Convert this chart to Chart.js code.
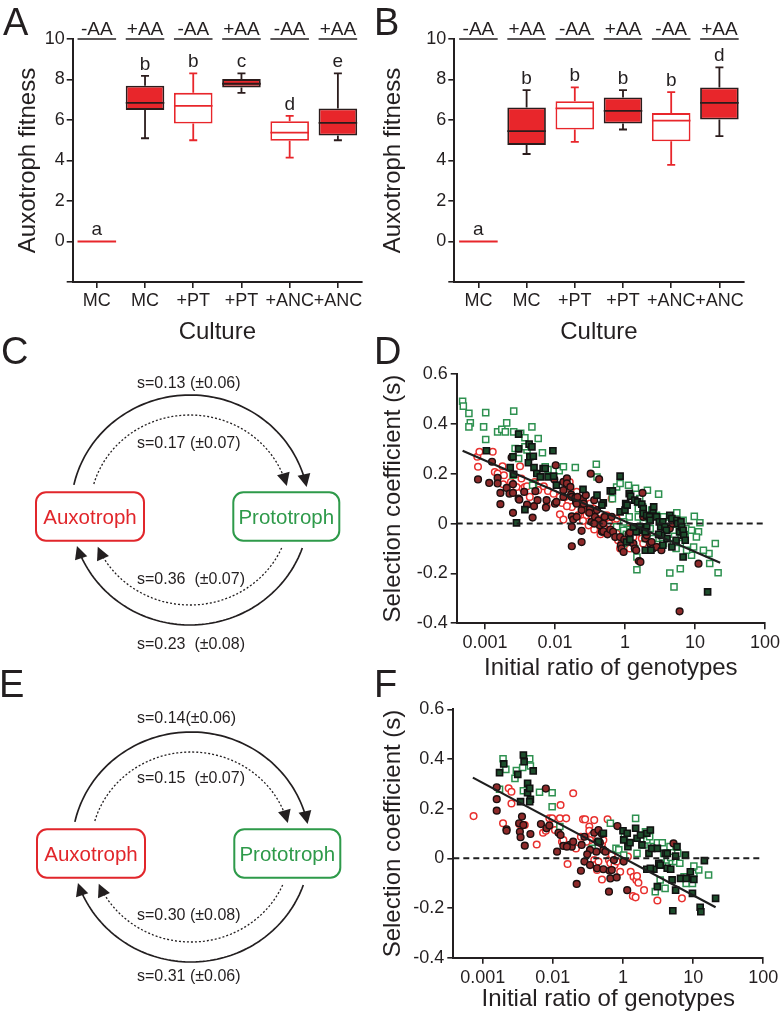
<!DOCTYPE html>
<html>
<head>
<meta charset="utf-8">
<script src="https://cdn.jsdelivr.net/npm/chart.js@4.4.1/dist/chart.umd.min.js"></script>
<style>
  body { margin: 0; background: #fff; width: 782px; height: 1016px; position: relative; overflow: hidden;
         font-family: 'Liberation Sans', Arial, sans-serif; color: #231f20; }
  canvas, svg, .lbl { position: absolute; }
  .lbl { font-size: 38px; line-height: 38px; }
</style>
</head>
<body>
<canvas id="chartA" width="380" height="347" style="left:0;top:0"></canvas>
<canvas id="chartB" width="420" height="347" style="left:378px;top:0"></canvas>
<canvas id="chartD" width="420" height="343" style="left:378px;top:340px"></canvas>
<canvas id="chartF" width="420" height="334" style="left:378px;top:680px"></canvas>
<svg id="diagrams" width="380" height="1016" style="left:0;top:0"></svg>
<div class="lbl" style="left:3px;top:3px">A</div>
<div class="lbl" style="left:374px;top:3px">B</div>
<div class="lbl" style="left:1px;top:332px">C</div>
<div class="lbl" style="left:374px;top:332px">D</div>
<div class="lbl" style="left:-1px;top:665px">E</div>
<div class="lbl" style="left:374px;top:665px">F</div>
<script>
// ---- box plots (A, B) ----
const boxCategories = ['MC', 'MC', '+PT', '+PT', '+ANC', '+ANC'];
const aaLabels = ['-AA', '+AA', '-AA', '+AA', '-AA', '+AA'];
const boxFilled = [false, true, false, true, false, true];

const aLow    = [0, 5.10, 5.00, 7.34, 4.14, 5.00];
const aQ1     = [0, 6.50, 5.83, 7.61, 4.97, 5.23];
const aMedian = [0, 6.85, 6.70, 7.79, 5.38, 5.86];
const aQ3     = [0, 7.69, 7.34, 8.02, 5.94, 6.57];
const aHigh   = [0, 8.18, 8.30, 8.30, 6.20, 8.30];
const aLetters = ['a', 'b', 'b', 'c', 'd', 'e'];

const bLow    = [0, 4.32, 4.92, 5.53, 3.78, 5.20];
const bQ1     = [0, 4.77, 5.53, 5.83, 4.95, 6.02];
const bMedian = [0, 5.45, 6.57, 6.45, 5.97, 6.85];
const bQ3     = [0, 6.62, 6.93, 7.11, 6.34, 7.61];
const bHigh   = [0, 7.48, 7.61, 7.48, 7.38, 8.60];
const bLetters = ['a', 'b', 'b', 'b', 'b', 'd'];

// ---- scatter plots (D, F): [log10 of ratio, selection coefficient] ----
const ratioTicks = [0.001, 0.01, 0.1, 1, 10];
const ratioTickLabels = ['0.001', '0.01', '1', '10', '100'];

const dRedOpen = [[-3.11,0.268],[-3.08,0.288],[-3.10,0.228],[-2.89,0.288],[-2.86,0.207],[-2.82,0.201],[-2.75,0.230],[-2.73,0.194],[-2.74,0.158],[-2.63,0.167],[-2.55,0.147],[-2.50,0.230],[-2.48,0.181],[-2.46,0.141],[-2.43,0.147],[-2.40,0.150],[-2.36,0.107],[-2.29,0.167],[-2.24,0.134],[-2.12,0.071],[-2.16,0.150],[-2.10,0.131],[-2.02,0.120],[-1.93,0.037],[-1.90,0.083],[-1.88,0.016],[-1.86,0.107],[-1.84,0.118],[-1.79,0.167],[-1.76,0.110],[-1.71,0.107],[-1.69,0.127],[-1.67,0.083],[-1.64,0.080],[-1.62,0.094],[-1.60,0.074],[-1.57,0.047],[-1.55,0.033],[-1.52,-0.007],[-1.50,0.080],[-1.48,0.033],[-1.45,0.060],[-1.43,0.013],[-1.41,-0.013],[-1.40,0.020],[-1.37,0.003],[-1.35,-0.043],[-1.31,0.007],[-1.30,0.027],[-1.26,0.033],[-1.22,0.0],[-1.21,-0.033],[-1.19,0.100],[-1.16,-0.011],[-1.12,-0.040],[-1.10,-0.067],[-1.07,-0.100],[-1.05,-0.080],[-1.02,-0.040],[-1.00,-0.067],[-0.97,-0.024],[-0.93,-0.100],[-0.88,-0.054],[-0.83,-0.027],[-0.81,-0.147],[-0.76,-0.060],[-0.74,-0.080],[-0.69,-0.040],[-0.55,-0.094],[-0.93,-0.020],[-1.12,0.020],[-1.31,-0.013],[-1.44,-0.024],[-1.52,0.047],[-1.60,0.011],[-1.67,0.033],[-1.76,0.067],[-1.83,0.070],[-1.93,0.107]];
const dRedFilled = [[-3.10,0.177],[-2.94,0.163],[-2.90,0.248],[-2.82,0.183],[-2.82,0.161],[-2.78,0.123],[-2.78,0.078],[-2.69,0.143],[-2.65,0.120],[-2.62,0.265],[-2.60,0.158],[-2.60,0.123],[-2.60,0.043],[-2.52,0.100],[-2.51,0.096],[-2.44,0.127],[-2.40,0.076],[-2.32,0.024],[-2.30,0.070],[-2.28,0.130],[-2.25,0.094],[-2.12,0.094],[-2.13,0.064],[-1.99,0.234],[-2.01,0.177],[-1.88,0.167],[-1.88,0.134],[-1.83,0.181],[-1.83,0.161],[-1.77,0.116],[-1.76,0.107],[-1.76,0.029],[-1.74,0.016],[-1.70,0.087],[-1.69,0.080],[-1.62,0.054],[-1.60,0.100],[-1.59,0.080],[-1.56,0.114],[-1.50,0.060],[-1.48,0.007],[-1.44,0.094],[-1.43,0.027],[-1.40,0.054],[-1.38,0.013],[-1.36,-0.007],[-1.33,-0.033],[-1.31,-0.031],[-1.31,0.0],[-1.29,0.027],[-1.25,-0.043],[-1.21,-0.024],[-1.19,0.027],[-1.17,-0.033],[-1.14,-0.054],[-1.07,-0.054],[-1.06,-0.087],[-1.05,-0.100],[-1.02,-0.114],[-1.01,-0.064],[-0.95,-0.043],[-0.93,-0.037],[-0.88,-0.080],[-0.86,-0.100],[-0.84,-0.107],[-0.80,-0.150],[-0.78,-0.154],[-0.75,0.123],[-0.74,0.027],[-0.71,-0.060],[-0.69,-0.047],[-0.64,-0.080],[-0.62,-0.074],[-0.60,-0.100],[-0.55,-0.094],[-0.48,-0.107],[-0.36,-0.020],[-0.32,0.0],[-0.22,-0.352],[0.05,-0.161],[-1.62,-0.074],[-1.69,0.027],[-1.51,0.043],[-1.44,0.0],[-1.62,-0.029],[-1.76,-0.013],[-2.00,0.080],[-1.98,0.087],[-1.88,0.107],[-1.78,0.147],[-1.71,0.103],[-1.68,0.107],[-1.49,0.200],[-1.37,0.178],[-1.76,-0.091]];
const dGreenOpen = [[-3.32,0.491],[-3.31,0.471],[-3.23,0.442],[-3.21,0.404],[-3.23,0.388],[-3.02,0.388],[-2.99,0.445],[-2.99,0.337],[-2.82,0.368],[-2.76,0.378],[-2.71,0.368],[-2.69,0.404],[-2.59,0.451],[-2.59,0.368],[-2.57,0.301],[-2.49,0.362],[-2.43,0.344],[-2.40,0.295],[-2.33,0.388],[-2.24,0.341],[-2.18,0.284],[-2.14,0.228],[-2.43,0.308],[-2.52,0.261],[-2.60,0.194],[-2.10,0.217],[-1.94,0.212],[-1.88,0.228],[-1.71,0.225],[-1.41,0.238],[-2.31,0.161],[-2.32,0.154],[-1.40,0.187],[-1.18,0.100],[-1.12,0.147],[-1.07,0.161],[-0.95,0.154],[-0.85,0.142],[-0.75,0.067],[-0.68,0.134],[-0.52,0.118],[-0.94,0.027],[-0.97,-0.024],[-0.93,-0.033],[-0.81,0.060],[-0.62,0.054],[-0.55,0.033],[-0.45,0.027],[-0.36,0.027],[-0.26,0.043],[-0.17,0.013],[-0.01,0.029],[-0.13,-0.020],[-0.20,-0.060],[-0.31,-0.080],[-0.05,-0.127],[0.05,-0.033],[0.07,0.003],[0.20,-0.12],[0.21,-0.16],[0.33,-0.197],[-0.36,-0.198],[-0.21,-0.181],[-0.30,-0.254],[-0.83,-0.185],[-0.83,-0.134],[-0.86,-0.100],[-0.64,-0.020],[-0.40,-0.024],[-0.21,-0.027],[-0.55,-0.060],[-0.45,-0.080],[-1.02,-0.027],[-0.98,-0.043],[-0.81,0.027],[-0.48,0.0],[-0.30,-0.020],[-0.21,-0.080],[-0.12,-0.107],[-0.02,-0.094],[-0.27,-0.100],[-0.14,-0.054],[-0.05,-0.027],[0.02,-0.054],[0.12,-0.107],[0.29,-0.080],[-0.79,0.100],[-0.74,0.054],[-0.74,0.0],[-0.71,-0.060],[-1.02,0.007],[-1.12,-0.013],[-1.02,-0.080],[-0.69,0.027],[-0.60,-0.060],[-0.38,-0.043],[-0.31,-0.027]];
const dGreenFilled = [[-2.98,0.292],[-2.52,0.359],[-2.52,0.300],[-2.64,0.225],[-2.60,0.268],[-2.59,0.198],[-2.43,0.056],[-2.55,0.003],[-2.37,0.319],[-2.36,0.268],[-2.38,0.244],[-2.33,0.308],[-2.31,0.270],[-2.30,0.225],[-2.26,0.201],[-2.21,0.187],[-2.17,0.221],[-2.14,0.221],[-2.10,0.187],[-2.03,0.292],[-2.02,0.190],[-1.98,0.154],[-1.60,0.137],[-1.40,0.114],[-1.31,0.083],[-1.21,0.131],[-1.18,0.131],[-1.07,0.190],[-1.07,0.047],[-1.00,0.054],[-0.99,0.080],[-0.97,0.074],[-0.94,0.120],[-0.92,0.110],[-0.86,0.094],[-0.82,0.087],[-0.76,0.078],[-0.74,0.060],[-0.74,0.040],[-0.69,0.033],[-0.65,0.027],[-0.64,0.013],[-0.60,0.054],[-0.59,0.067],[-0.55,0.027],[-0.51,0.007],[-0.49,-0.013],[-0.46,0.007],[-0.43,-0.013],[-0.41,-0.027],[-0.36,0.033],[-0.33,0.020],[-0.26,0.013],[-0.25,0.0],[-0.22,-0.033],[-0.20,0.007],[-0.19,-0.013],[-0.17,-0.027],[-0.16,-0.047],[-0.14,-0.067],[-0.27,-0.067],[-0.40,-0.060],[-0.48,-0.047],[-0.52,-0.043],[-0.69,-0.013],[-0.71,-0.033],[-0.79,-0.013],[-0.81,-0.027],[-0.84,-0.033],[-0.88,-0.013],[-0.98,-0.074],[-0.93,-0.064],[-0.71,-0.107],[-0.63,-0.107],[-0.33,-0.094],[-0.17,-0.134],[-0.46,-0.087],[0.18,-0.274],[-1.33,0.074]];
const dFit = [[-3.32, 0.292], [0.36, -0.157]];
const dRatioMin = 0.000394, dRatioMax = 10;

const fRedOpen = [[-3.13,0.170],[-2.71,0.141],[-2.63,0.282],[-2.59,0.268],[-2.59,0.221],[-2.48,0.138],[-2.44,0.132],[-2.40,0.134],[-2.23,0.056],[-2.14,0.103],[-2.10,0.111],[-2.05,0.161],[-2.01,0.161],[-1.97,0.114],[-1.90,0.161],[-1.89,0.215],[-1.87,0.067],[-1.85,0.074],[-1.81,0.161],[-1.79,-0.023],[-1.71,0.262],[-1.60,0.087],[-1.57,0.157],[-1.54,0.157],[-1.48,0.128],[-1.48,0.111],[-1.44,0.094],[-1.41,0.154],[-1.41,-0.007],[-1.40,-0.027],[-1.37,-0.047],[-1.35,-0.013],[-1.30,0.058],[-1.22,0.157],[-1.20,-0.007],[-1.18,-0.020],[-1.16,0.013],[-1.12,-0.027],[-1.09,-0.013],[-1.04,-0.054],[-0.99,0.0],[-0.89,-0.054],[-0.85,-0.074],[-0.81,-0.087],[-0.78,-0.098],[-0.86,-0.152],[-0.82,-0.157],[-0.70,-0.128],[-0.51,-0.170],[-0.16,-0.161],[-0.80,-0.071],[-0.93,0.007],[-1.47,0.074],[-1.52,0.067],[-1.28,0.074],[-1.67,0.040],[-1.30,-0.085]];
const fRedFilled = [[-2.80,0.286],[-2.80,0.238],[-2.80,0.192],[-2.66,0.117],[-2.66,0.111],[-2.48,0.141],[-2.47,0.107],[-2.46,0.085],[-2.44,0.168],[-2.42,0.134],[-2.40,0.051],[-2.32,0.098],[-2.10,0.281],[-2.17,0.138],[-2.09,0.121],[-2.05,0.132],[-1.94,0.027],[-1.92,0.103],[-1.89,0.094],[-1.85,0.050],[-1.76,0.054],[-1.73,0.047],[-1.71,0.067],[-1.66,-0.103],[-1.60,-0.050],[-1.55,0.087],[-1.55,-0.013],[-1.47,-0.027],[-1.41,0.103],[-1.38,0.027],[-1.37,-0.040],[-1.36,0.067],[-1.35,0.114],[-1.33,0.063],[-1.30,0.098],[-1.28,0.034],[-1.28,-0.044],[-1.25,0.027],[-1.20,-0.134],[-1.19,-0.050],[-1.18,-0.081],[-1.16,-0.047],[-1.13,-0.007],[-1.09,-0.077],[-1.08,0.130],[-0.99,-0.013],[-0.94,-0.128],[-0.28,0.060],[-1.59,0.054],[-1.80,0.047],[-1.47,0.034],[-1.51,0.016]];
const fGreenOpen = [[-2.71,0.401],[-2.67,0.358],[-2.52,0.353],[-2.54,0.322],[-2.43,0.366],[-2.33,0.401],[-2.32,0.372],[-2.42,0.272],[-2.19,0.266],[-2.01,0.264],[-2.01,0.208],[-2.76,0.278],[-1.90,0.128],[-1.44,0.040],[-1.18,0.141],[-1.10,0.040],[-1.06,0.034],[-0.82,0.161],[-0.98,0.087],[-0.99,0.013],[-0.80,0.020],[-0.70,0.054],[-0.68,0.107],[-0.66,0.074],[-0.62,0.087],[-0.56,0.047],[-0.51,0.063],[-0.44,0.063],[-0.44,-0.020],[-0.37,-0.007],[-0.33,0.047],[-0.30,-0.013],[-0.25,-0.013],[-0.22,0.020],[-0.19,-0.020],[-0.13,-0.074],[-0.10,-0.101],[-0.01,-0.101],[0.01,-0.060],[0.08,-0.047],[0.22,-0.067],[-0.54,-0.134],[-0.47,-0.087],[-0.40,-0.121],[-0.32,0.004],[0.01,-0.031],[-0.42,0.020]];
const fGreenFilled = [[-2.76,0.345],[-2.70,0.380],[-2.50,0.338],[-2.42,0.416],[-2.41,0.389],[-2.36,0.264],[-2.36,0.302],[-2.33,0.282],[-2.32,0.238],[-2.28,0.352],[-2.46,0.228],[-2.33,0.228],[-1.28,0.101],[-1.00,0.111],[-0.99,0.074],[-0.94,0.101],[-0.93,0.047],[-0.90,0.063],[-0.82,0.121],[-0.80,0.081],[-0.75,0.094],[-0.73,0.054],[-0.66,0.101],[-0.63,0.020],[-0.61,0.114],[-0.59,0.040],[-0.66,-0.044],[-0.56,-0.044],[-0.51,0.040],[-0.49,-0.020],[-0.47,-0.027],[-0.40,0.020],[-0.37,-0.040],[-0.37,0.020],[-0.32,-0.044],[-0.30,-0.087],[-0.29,-0.211],[-0.25,0.009],[-0.25,-0.128],[-0.23,0.047],[-0.18,-0.081],[-0.11,0.013],[-0.10,-0.081],[-0.01,-0.141],[0.01,-0.085],[-0.04,-0.054],[0.10,-0.197],[0.11,-0.215],[0.16,-0.009],[0.32,-0.161],[-0.51,-0.114],[-1.35,0.067],[-0.61,-0.040]];
const fFit = [[-3.14, 0.325], [0.32, -0.197]];
const fRatioMin = 0.000381, fRatioMax = 10;

// ---- diagrams (C, E) ----
const cRates = ['s=0.13 (\u00b10.06)', 's=0.17 (\u00b10.07)', 's=0.36  (\u00b10.07)', 's=0.23  (\u00b10.08)'];
const eRates = ['s=0.14(\u00b10.06)', 's=0.15  (\u00b10.07)', 's=0.30 (\u00b10.08)', 's=0.31 (\u00b10.06)'];

const INK = '#231f20';
const RED = '#e8262b';
const DARK = '#2b1c1c';
Chart.defaults.font.family = "'Liberation Sans', Arial, sans-serif";
Chart.defaults.color = INK;

// whiskers, medians, letters and the -AA/+AA headers
function boxExtras(st) {
  return {
    id: 'boxExtras',
    afterDatasetsDraw(chart) {
      const {ctx, chartArea} = chart;
      const xs = chart.scales.x, ys = chart.scales.y;
      const half = xs.width / boxCategories.length * 0.4;
      ctx.save();
      for (let i = 0; i < st.median.length; i++) {
        const cx = xs.getPixelForValue(i);
        const yLow = ys.getPixelForValue(st.low[i]);
        const yQ1 = ys.getPixelForValue(st.q1[i]);
        const yMed = ys.getPixelForValue(st.median[i]);
        const yQ3 = ys.getPixelForValue(st.q3[i]);
        const yHigh = ys.getPixelForValue(st.high[i]);
        ctx.strokeStyle = boxFilled[i] ? DARK : RED;
        ctx.lineWidth = 1.8;
        if (st.q3[i] > st.q1[i]) {
          ctx.beginPath();
          ctx.moveTo(cx, yQ3); ctx.lineTo(cx, yHigh);
          ctx.moveTo(cx, yQ1); ctx.lineTo(cx, yLow);
          ctx.moveTo(cx - 4, yHigh); ctx.lineTo(cx + 4, yHigh);
          ctx.moveTo(cx - 4, yLow); ctx.lineTo(cx + 4, yLow);
          ctx.stroke();
        }
        ctx.beginPath();
        ctx.moveTo(cx - half, yMed); ctx.lineTo(cx + half, yMed);
        ctx.stroke();

        ctx.fillStyle = INK;
        ctx.font = "19px 'Liberation Sans', Arial, sans-serif";
        ctx.textAlign = 'center';
        ctx.textBaseline = 'middle';
        ctx.fillText(st.letters[i], cx, yHigh - 11.5);
        ctx.fillText(aaLabels[i], cx, chartArea.top - 9);
        ctx.strokeStyle = INK;
        ctx.lineWidth = 1.3;
        ctx.beginPath();
        ctx.moveTo(cx - half, chartArea.top); ctx.lineTo(cx + half, chartArea.top);
        ctx.stroke();
      }
      ctx.restore();
    }
  };
}

function axisStyle() {
  return {
    grid: {drawOnChartArea: false, drawTicks: true, tickLength: 6, color: INK, lineWidth: 1.6, offset: false},
    border: {display: true, color: INK, width: 2}
  };
}

function boxChart(id, st, geo) {
  return new Chart(document.getElementById(id), {
    type: 'bar',
    data: {
      labels: boxCategories,
      datasets: [{
        data: st.q1.map((v, i) => st.q3[i] > v ? [v, st.q3[i]] : null),
        backgroundColor: boxFilled.map(f => f ? RED : '#ffffff'),
        borderColor: boxFilled.map(f => f ? DARK : RED),
        borderWidth: 1.8,
        borderSkipped: false,
        barPercentage: 0.8,
        categoryPercentage: 1
      }]
    },
    options: {
      responsive: false,
      animation: false,
      layout: {padding: {left: 0, top: 39, right: geo.padRight, bottom: 0}},
      plugins: {legend: {display: false}, tooltip: {enabled: false}},
      scales: {
        x: {
          ...axisStyle(),
          afterFit: s => { s.height = 65; },
          ticks: {font: {size: 18}, color: INK, padding: 2, maxRotation: 0, autoSkip: false},
          title: {display: true, text: 'Culture', font: {size: 24}, color: INK, padding: 0}
        },
        y: {
          ...axisStyle(),
          min: -2, max: 10,
          afterFit: s => { s.width = geo.yWidth; },
          ticks: {stepSize: 2, font: {size: 18}, color: INK, padding: 2, callback: v => v < 0 ? '' : v},
          title: {display: true, text: 'Auxotroph fitness', font: {size: 24}, color: INK,
                  padding: {top: geo.titlePad, bottom: 0}}
        }
      }
    },
    plugins: [boxExtras(st)]
  });
}

boxChart('chartA', {low: aLow, q1: aQ1, median: aMedian, q3: aQ3, high: aHigh, letters: aLetters},
         {padRight: 18, yWidth: 72.7, titlePad: 14.2});
boxChart('chartB', {low: bLow, q1: bQ1, median: bMedian, q3: bQ3, high: bHigh, letters: bLetters},
         {padRight: 420 - (743.5 - 378), yWidth: 454.3 - 378, titlePad: 1.2});

const toPoints = arr => arr.map(p => ({x: Math.pow(10, p[0]), y: p[1]}));

function scatterChart(id, s, geo) {
  return new Chart(document.getElementById(id), {
    type: 'scatter',
    data: {
      datasets: [
        {data: toPoints(s.fit), showLine: true, borderColor: '#1e1e1e', borderWidth: 2.2, pointRadius: 0, order: 0},
        {data: [{x: s.min, y: 0}, {x: s.max, y: 0}], showLine: true, borderColor: '#1e1e1e',
         borderDash: [6, 4], borderWidth: 2, pointRadius: 0, order: 1},
        {data: toPoints(s.greenFilled), pointStyle: 'rect', pointRadius: 4.3, borderWidth: 1.6,
         borderColor: '#111111', backgroundColor: '#1d4d2c', order: 2},
        {data: toPoints(s.redFilled), pointStyle: 'circle', pointRadius: 3.4, borderWidth: 1.4,
         borderColor: '#1c1010', backgroundColor: '#8e2a2a', order: 3},
        {data: toPoints(s.greenOpen), pointStyle: 'rect', pointRadius: 4.3, borderWidth: 1.5,
         borderColor: '#2e9150', backgroundColor: '#ffffff', order: 4},
        {data: toPoints(s.redOpen), pointStyle: 'circle', pointRadius: 3.3, borderWidth: 1.5,
         borderColor: '#e8312f', backgroundColor: '#ffffff', order: 5}
      ]
    },
    options: {
      responsive: false,
      animation: false,
      layout: {padding: {left: 0, top: geo.padTop, right: geo.padRight, bottom: 0}},
      plugins: {legend: {display: false}, tooltip: {enabled: false}},
      scales: {
        x: {
          ...axisStyle(),
          type: 'logarithmic',
          min: s.min, max: s.max,
          afterBuildTicks: ax => { ax.ticks = ratioTicks.map(v => ({value: v})); },
          afterFit: sc => { sc.height = geo.xHeight; },
          ticks: {font: {size: 18}, color: INK, padding: geo.tickPad, maxRotation: 0, autoSkip: false,
                  callback: v => ratioTickLabels[ratioTicks.indexOf(v)]},
          title: {display: true, text: 'Initial ratio of genotypes', font: {size: 24}, color: INK, padding: 0}
        },
        y: {
          ...axisStyle(),
          min: -0.4, max: 0.6,
          afterFit: sc => { sc.width = geo.yWidth; },
          ticks: {stepSize: 0.2, font: {size: 18}, color: INK, padding: 3,
                  callback: v => String(Math.round(v * 10) / 10)},
          title: {display: true, text: 'Selection coefficient (s)', font: {size: 24}, color: INK,
                  padding: {top: 1.2, bottom: 0}}
        }
      }
    }
  });
}

scatterChart('chartD',
  {redOpen: dRedOpen, redFilled: dRedFilled, greenOpen: dGreenOpen, greenFilled: dGreenFilled,
   fit: dFit, min: dRatioMin, max: dRatioMax},
  {padTop: 34, padRight: 420 - (765 - 378), yWidth: 456.7 - 378, xHeight: 683 - 623.3, tickPad: 3});
scatterChart('chartF',
  {redOpen: fRedOpen, redFilled: fRedFilled, greenOpen: fGreenOpen, greenFilled: fGreenFilled,
   fit: fFit, min: fRatioMin, max: fRatioMax},
  {padTop: 29.3, padRight: 420 - (763.3 - 378), yWidth: 453.3 - 378, xHeight: 1014 - 957.7, tickPad: 3.5});

// ---- C / E diagrams (svg, text kept as text) ----
const svg = document.getElementById('diagrams');
const NS = 'http://www.w3.org/2000/svg';
function add(tag, attrs, text) {
  const e = document.createElementNS(NS, tag);
  for (const k in attrs) e.setAttribute(k, attrs[k]);
  if (text) e.textContent = text;
  svg.appendChild(e);
  return e;
}
function arcPath(cx, cy, rx, ry, a0, a1) {
  let d = '';
  for (let i = 0; i <= 80; i++) {
    const t = (a0 + (a1 - a0) * i / 80) * Math.PI / 180;
    d += (i ? 'L' : 'M') + (cx + rx * Math.cos(t)).toFixed(2) + ' ' + (cy + ry * Math.sin(t)).toFixed(2);
  }
  return d;
}
function headPath(cx, cy, rx, ry, a) {
  const t = a * Math.PI / 180;
  const tx = cx + rx * Math.cos(t), ty = cy + ry * Math.sin(t);
  let ux = -rx * Math.sin(t), uy = ry * Math.cos(t);
  const n = Math.hypot(ux, uy); ux /= n; uy /= n;
  const L = 13, W = 6.5;
  const bx = tx - L * ux, by = ty - L * uy;
  return `M${tx} ${ty}L${bx - W * uy} ${by + W * ux}L${bx + W * uy} ${by - W * ux}Z`;
}
function diagram(dx, dy, rates, rateY) {
  const cx = 190 + dx, cy = 510 + dy;
  const arcs = [
    {rx: 119, ry: 115, a0: -167.4, tip: -11.5, dash: null},
    {rx: 100, ry: 95, a0: -164.1, tip: -14.6, dash: '2 2'},
    {rx: 119, ry: 115, a0: 19.3, tip: 161.8, dash: null},
    {rx: 100, ry: 95, a0: 23.6, tip: 157.3, dash: '2 2'}
  ];
  arcs.forEach(a => {
    const back = 12 / a.rx * 180 / Math.PI;
    const p = {d: arcPath(cx, cy, a.rx, a.ry, a.a0, a.tip - back), fill: 'none', stroke: INK,
               'stroke-width': a.dash ? 1.3 : 1.7};
    if (a.dash) p['stroke-dasharray'] = a.dash;
    add('path', p);
    add('path', {d: headPath(cx, cy, a.rx, a.ry, a.tip), fill: INK});
  });
  add('rect', {x: 36 + dx, y: 492.3 + dy, width: 108, height: 48.4, rx: 10, fill: '#fff',
               stroke: '#e1262b', 'stroke-width': 2});
  add('rect', {x: 233.3 + dx, y: 492.3 + dy, width: 106, height: 48.4, rx: 10, fill: '#fff',
               stroke: '#2e9a4a', 'stroke-width': 2});
  const font = "'Liberation Sans', Arial, sans-serif";
  add('text', {x: 90 + dx, y: 516.5 + dy, 'text-anchor': 'middle', 'dominant-baseline': 'central',
               'font-family': font, 'font-size': 20.5, fill: '#e1262b'}, 'Auxotroph');
  add('text', {x: 286.3 + dx, y: 516.5 + dy, 'text-anchor': 'middle', 'dominant-baseline': 'central',
               'font-family': font, 'font-size': 20.5, fill: '#2e9a4a'}, 'Prototroph');
  rates.forEach((r, i) => {
    add('text', {x: 137, y: rateY[i], 'dominant-baseline': 'central', 'font-family': font,
                 'font-size': 16, fill: INK, style: 'white-space:pre'}, r);
  });
}
diagram(0, 0, cRates, [382.3, 442, 578.3, 643.3]);
diagram(1, 337, eRates, [717.5, 777.5, 914.2, 975.8]);
</script>
</body>
</html>
